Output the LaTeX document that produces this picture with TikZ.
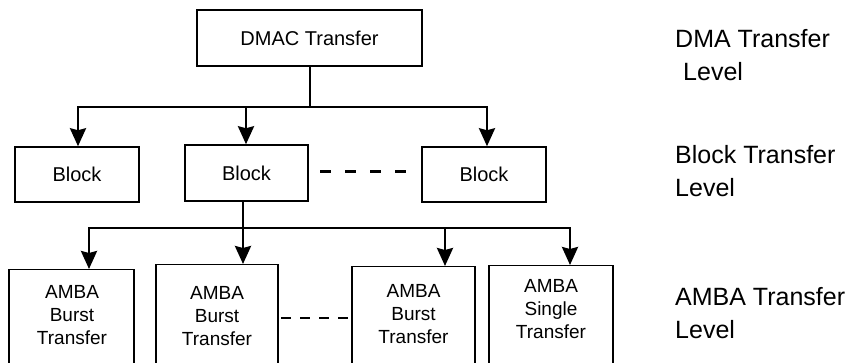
\documentclass[tikz,border=0pt]{standalone}
\usepackage{fontspec}
\setmainfont{Liberation Sans}
\usetikzlibrary{arrows.meta}
\begin{document}
\begin{tikzpicture}[x=1pt,y=-1pt,
  >={Stealth[length=18pt,width=16pt,inset=2pt]},
  box/.style={draw, line width=1.5pt, inner sep=0pt, font=\fontsize{20}{23}\selectfont},
  conn/.style={line width=2.6pt},
  arr/.style={conn, ->},
  lvl/.style={anchor=west, align=left, inner sep=0pt, font=\fontsize{25}{33}\selectfont},
  txt/.style={align=center, inner sep=0pt, font=\fontsize{19}{23}\selectfont}]
\path[use as bounding box, fill=white] (0,0) rectangle (852,363);
\begin{scope}
\clip (0,0) rectangle (852,363);
% top level
\node[box, minimum width=225pt, minimum height=56pt] (dmac) at (309.5,38) {DMAC Transfer};
% block level
\node[box, minimum width=124pt, minimum height=55pt] (b1) at (77,174.5) {Block};
\node[box, minimum width=123pt, minimum height=56pt] (b2) at (246.5,173) {Block};
\node[box, minimum width=124pt, minimum height=55pt] (b3) at (484,174.5) {Block};
% AMBA level
\node[box, anchor=north, minimum width=125pt, minimum height=120pt] (a1) at (71.5,269) {};
\node[box, anchor=north, minimum width=122pt, minimum height=120pt] (a2) at (217,264) {};
\node[box, anchor=north, minimum width=123pt, minimum height=120pt] (a3) at (413.5,266) {};
\node[box, anchor=north, minimum width=124pt, minimum height=120pt] (a4) at (551,265) {};
\node[txt] (a1t) at (72,315) {AMBA\\Burst\\Transfer};
\node[txt] (a2t) at (217,316) {AMBA\\Burst\\Transfer};
\node[txt] (a3t) at (413.5,314) {AMBA\\Burst\\Transfer};
\node[txt] (a4t) at (551,309) {AMBA\\Single\\Transfer};
% upper connectors
\coordinate (j1) at (310,107);
\coordinate (t1) at (78,107);
\coordinate (t2) at (246,107);
\coordinate (t3) at (487,107);
\draw[conn] (dmac.south -| j1) -- (j1);
\draw[conn, line cap=rect] (t1) -- (t3);
\draw[arr] (t1) -- (t1 |- b1.north);
\draw[arr] (t2) -- (t2 |- b2.north);
\draw[arr] (t3) -- (t3 |- b3.north);
\coordinate (d1) at (320,172);
\coordinate (d2) at (406,172);
\draw[conn, line width=3pt, dash pattern=on 11pt off 14pt] (d1) -- (d2);
% lower connectors
\coordinate (u0) at (243,228);
\coordinate (u1) at (89,228);
\coordinate (u2) at (243,228);
\coordinate (u3) at (445,228);
\coordinate (u4) at (570,228);
\draw[conn] (b2.south -| u0) -- (u0);
\draw[conn, line cap=rect] (u1) -- (u4);
\draw[arr] (u1) -- (u1 |- a1.north);
\draw[arr] (u2) -- (u2 |- a2.north);
\draw[arr] (u3) -- (u3 |- a3.north);
\draw[arr] (u4) -- (u4 |- a4.north);
\coordinate (e1) at (281,318);
\coordinate (e2) at (348,318);
\draw[conn, line width=2.6pt, dash pattern=on 10pt off 9pt] (e1) -- (e2);
% level labels
\node[lvl] (l1) at (675,55) {DMA Transfer\\\hspace*{8pt}Level};
\node[lvl] (l2) at (675,171) {Block Transfer\\Level};
\node[lvl] (l3) at (675,313.5) {AMBA Transfer\\Level};
\end{scope}
\end{tikzpicture}
\end{document}
